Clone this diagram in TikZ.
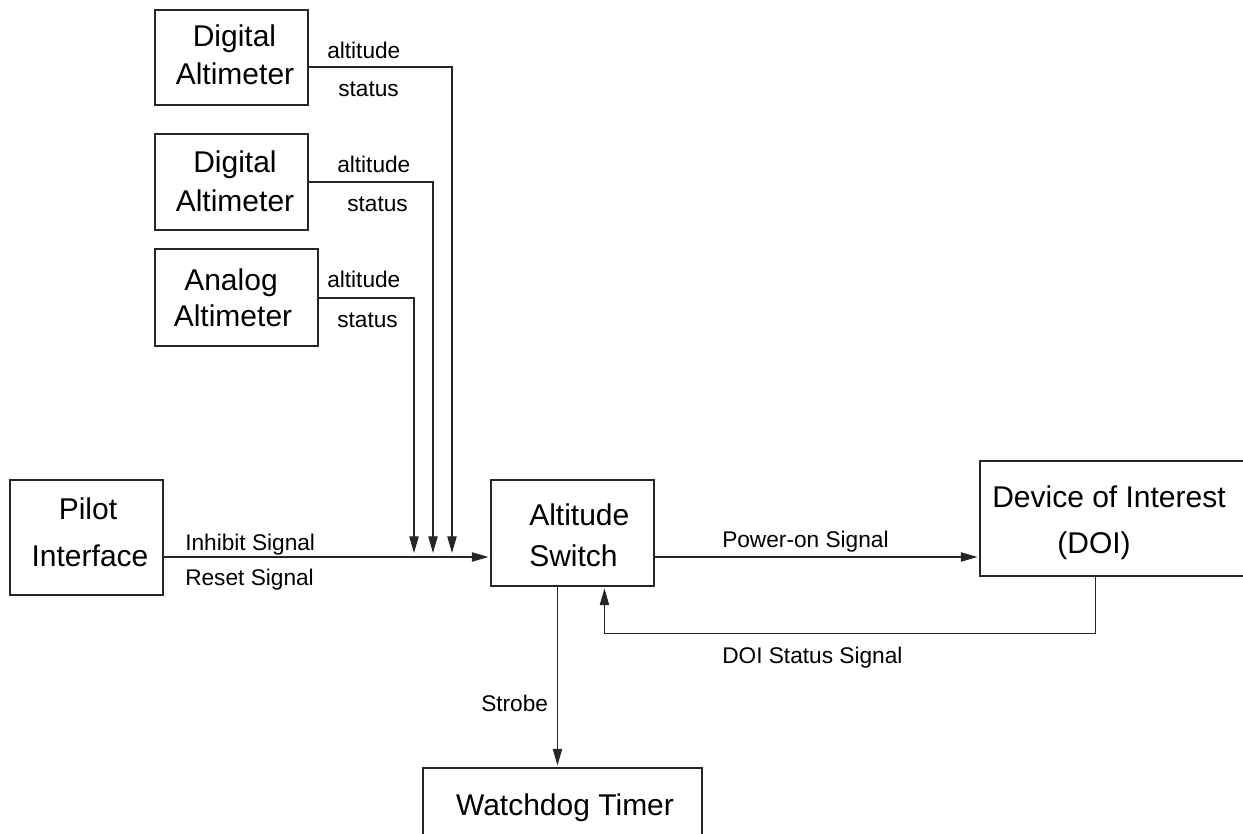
\documentclass[tikz,border=0pt]{standalone}
\usepackage{fontspec}
\setmainfont{Liberation Sans}
\usetikzlibrary{arrows.meta,fit,calc}
\begin{document}
\begin{tikzpicture}[x=0.75pt,y=-0.75pt,
  box/.style={draw=black!85, line width=0.8pt, inner sep=0pt},
  conn/.style={draw=black!85, line width=0.9pt},
  arr/.style={conn, -{Triangle[length=12.5pt,width=7pt]}, shorten >=1.5pt},
  btxt/.style={font=\fontsize{22.5}{27}\selectfont, anchor=base, inner sep=0pt},
  btxtl/.style={font=\fontsize{22.5}{27}\selectfont, anchor=base west, inner sep=0pt},
  ltxt/.style={font=\fontsize{17}{20}\selectfont, anchor=base west, inner sep=0pt}]
\useasboundingbox (0,0) rectangle (1243,834);
\clip (0,0) rectangle (1243,834);

% boxes
\node[box, fit={(155,10) (308,105)}] (da1) {};
\node[box, fit={(155,134) (308,230)}] (da2) {};
\node[box, fit={(155,249) (318,346)}] (aa) {};
\node[box, fit={(10,480) (163,595)}] (pilot) {};
\node[box, fit={(491,480) (654,586)}] (sw) {};
\node[box, fit={(980,461) (1262,576)}] (doi) {};
\node[box, fit={(423,768) (702,850)}] (wd) {};

% box texts
\node[btxt] (da1a) at (234.5,47) {Digital};
\node[btxt] (da1b) at (235,85) {Altimeter};
\node[btxt] (da2a) at (235,173) {Digital};
\node[btxt] (da2b) at (235,212) {Altimeter};
\node[btxt] (aaa) at (231,291) {Analog};
\node[btxt] (aab) at (233,327) {Altimeter};
\node[btxt] (pa) at (88,519) {Pilot};
\node[btxt] (pb) at (90,566) {Interface};
\node[btxtl] (swa) at (529,525) {Altitude};
\node[btxtl] (swb) at (529,566) {Switch};
\node[btxt] (doia) at (1109,507) {Device of Interest};
\node[btxt] (doib) at (1094,553) {(DOI)};
\node[btxt] (wda) at (565,815) {Watchdog Timer};

% junction points on the input line
\coordinate (t1) at (452,555);
\coordinate (t2) at (433,555);
\coordinate (t3) at (414,555);
\coordinate (pin) at ($(pilot.east)+(0,19.5)$);
\coordinate (pwr) at ($(sw.east)+(0,24)$);
\coordinate (fb) at ($(doi.south west)+(116,0)$);
\coordinate (fbe) at ($(sw.south west)+(114,0)$);
\coordinate (sb) at ($(sw.south west)+(67,0)$);

% connectors
\draw[arr] ($(da1.east)+(0,9.5)$) -| (t1);
\draw[arr] (da2.east) -| (t2);
\draw[arr] ($(aa.east)+(0,0.5)$) -| (t3);
\draw[arr] (pin) -- (pin -| sw.west);
\draw[arr] (pwr) -- (pwr -| doi.west);
\draw[arr] (fb) -- ++(0,57) -| (fbe);
\draw[arr] (sb) -- (sb |- wd.north);

% labels
\node[ltxt] (l1) at (327,59) {altitude};
\node[ltxt] (l2) at (338,96.5) {status};
\node[ltxt] (l3) at (337,173) {altitude};
\node[ltxt] (l4) at (347,212) {status};
\node[ltxt] (l5) at (327,288) {altitude};
\node[ltxt] (l6) at (337,328) {status};
\node[ltxt] (l7) at (185,550) {Inhibit Signal};
\node[ltxt] (l8) at (185,585) {Reset Signal};
\node[ltxt] (l9) at (722,547) {Power-on Signal};
\node[ltxt] (l10) at (722,663) {DOI Status Signal};
\node[ltxt] (l11) at (481,711) {Strobe};
\end{tikzpicture}
\end{document}
